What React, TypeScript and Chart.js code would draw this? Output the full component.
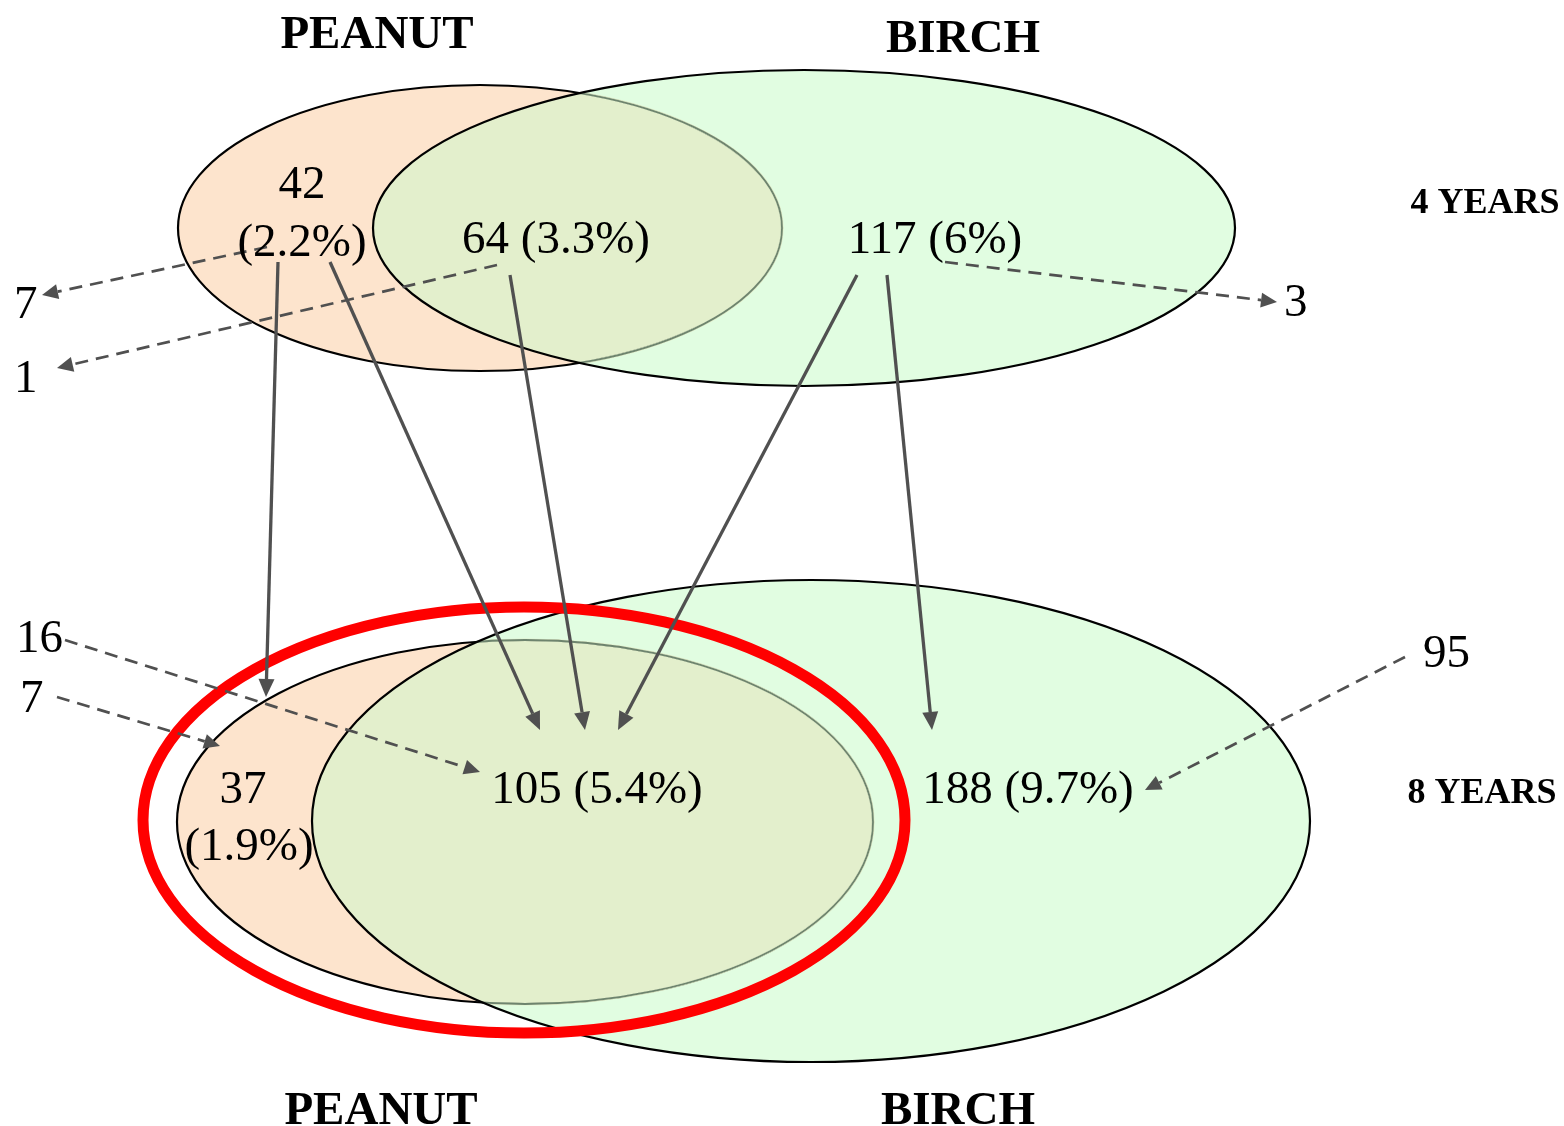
import React, { useEffect, useRef } from "react";
import { Chart, registerables } from "chart.js";

Chart.register(...registerables);

// ---------- data ----------
const sets = ["PEANUT", "BIRCH"];
const periods = ["4 YEARS", "8 YEARS"];
const regions = ["Peanut only", "Peanut + Birch", "Birch only"];
const counts4y = [42, 64, 117];
const pct4y = ["2.2%", "3.3%", "6%"];
const counts8y = [37, 105, 188];
const pct8y = ["1.9%", "5.4%", "9.7%"];
const lostAt4y = [7, 1, 3]; // outgoing dashed arrows from each 4y region
const newAt8y = [7, 16, 95]; // incoming dashed arrows to each 8y region
// transitions 4y region index -> 8y region index (solid arrows)
const transitions: [number, number][] = [
  [0, 0],
  [0, 1],
  [1, 1],
  [2, 1],
  [2, 2],
];

// ---------- layout (data-space coordinates on hidden linear scales) ----------
const W = 1564;
const H = 1126;
const panels = [
  {
    peanut: { cx: 480, cy: 228, rx: 302, ry: 143 },
    birch: { cx: 804, cy: 228, rx: 431, ry: 158 },
    headerY: [48, 52],
    headerX: [377, 963],
    periodPos: { x: 1485, y: 213 },
  },
  {
    peanut: { cx: 525, cy: 822, rx: 348, ry: 182 },
    birch: { cx: 811, cy: 821, rx: 499, ry: 241 },
    headerY: [1124, 1124],
    headerX: [381, 958],
    periodPos: { x: 1482, y: 803 },
  },
];
const highlight = { cx: 524, cy: 820, rx: 381, ry: 213 };

const FONT = "'Liberation Serif', 'Times New Roman', serif";

const venn = {
  id: "venn",
  afterDraw(chart: any) {
    const ctx: CanvasRenderingContext2D = chart.ctx;
    const xs = chart.scales.x;
    const ys = chart.scales.y;
    const px = (v: number) => xs.getPixelForValue(v);
    const py = (v: number) => ys.getPixelForValue(v);
    const sx = (v: number) => Math.abs(px(v) - px(0));
    const sy = (v: number) => Math.abs(py(v) - py(0));
    const ell = (e: any) => {
      ctx.beginPath();
      ctx.ellipse(px(e.cx), py(e.cy), sx(e.rx), sy(e.ry), 0, 0, Math.PI * 2);
    };

    ctx.save();
    panels.forEach((p) => {
      ell(p.peanut);
      ctx.fillStyle = "#FDE4CD";
      ctx.fill();
      ell(p.birch);
      ctx.fillStyle = "#E1FDE1";
      ctx.fill();
      // overlap
      ctx.save();
      ell(p.peanut);
      ctx.clip();
      ell(p.birch);
      ctx.fillStyle = "#E3EFCC";
      ctx.fill();
      ctx.restore();
      // peanut outline: black outside birch, muted inside birch
      ctx.lineWidth = 2.2;
      ctx.strokeStyle = "#000";
      ell(p.peanut);
      ctx.stroke();
      ctx.save();
      ell(p.birch);
      ctx.clip();
      ctx.strokeStyle = "#E3EFCC";
      ctx.lineWidth = 3.2;
      ell(p.peanut);
      ctx.stroke();
      ctx.strokeStyle = "#6E846E";
      ctx.lineWidth = 1.8;
      ell(p.peanut);
      ctx.stroke();
      ctx.restore();
      ctx.strokeStyle = "#000";
      ctx.lineWidth = 2.2;
      ell(p.birch);
      ctx.stroke();
    });

    // red highlight ring
    ctx.strokeStyle = "#FF0000";
    ctx.lineWidth = 11;
    ell(highlight);
    ctx.stroke();

    // arrows
    const arrow = (x1: number, y1: number, x2: number, y2: number, dashed: boolean) => {
      const X1 = px(x1), Y1 = py(y1), X2 = px(x2), Y2 = py(y2);
      const ang = Math.atan2(Y2 - Y1, X2 - X1);
      const len = dashed ? 16 : 18;
      const hw = dashed ? 7.5 : 8;
      const bx = X2 - len * Math.cos(ang);
      const by = Y2 - len * Math.sin(ang);
      ctx.strokeStyle = "#505050";
      ctx.fillStyle = "#505050";
      ctx.lineWidth = dashed ? 2.7 : 3.3;
      ctx.setLineDash(dashed ? [13, 8] : []);
      ctx.beginPath();
      ctx.moveTo(X1, Y1);
      ctx.lineTo(bx, by);
      ctx.stroke();
      ctx.setLineDash([]);
      ctx.beginPath();
      ctx.moveTo(X2, Y2);
      ctx.lineTo(bx - hw * Math.sin(ang), by + hw * Math.cos(ang));
      ctx.lineTo(bx + hw * Math.sin(ang), by - hw * Math.cos(ang));
      ctx.closePath();
      ctx.fill();
    };

    // solid transition arrows (start anchors by 4y region, end anchors by 8y region)
    const solidStarts = [
      [278, 262],
      [330, 262],
      [510, 275],
      [857, 275],
      [887, 275],
    ];
    const solidEnds = [
      [266, 697],
      [540, 730],
      [585, 730],
      [618, 730],
      [932, 730],
    ];
    transitions.forEach((_, i) => {
      arrow(solidStarts[i][0], solidStarts[i][1], solidEnds[i][0], solidEnds[i][1], false);
    });

    // dashed: lost at 4 years
    const lostArrows = [
      [267, 247, 42, 295],
      [497, 265, 57, 368],
      [945, 262, 1277, 302],
    ];
    lostArrows.forEach((a) => arrow(a[0], a[1], a[2], a[3], true));
    // dashed: new at 8 years
    const newArrows = [
      [57, 697, 220, 746],
      [65, 640, 480, 772],
      [1405, 657, 1145, 790],
    ];
    newArrows.forEach((a) => arrow(a[0], a[1], a[2], a[3], true));

    // texts
    ctx.fillStyle = "#000";
    ctx.textBaseline = "alphabetic";
    const txt = (s: string, x: number, y: number, align: CanvasTextAlign, font: string) => {
      ctx.font = font;
      ctx.textAlign = align;
      ctx.fillText(s, px(x), py(y));
    };
    const num = `47px ${FONT}`;
    const hdr = `bold 47px ${FONT}`;
    const per = `bold 36px ${FONT}`;

    panels.forEach((p, i) => {
      txt(sets[0], p.headerX[0], p.headerY[0], "center", hdr);
      txt(sets[1], p.headerX[1], p.headerY[1], "center", hdr);
      txt(periods[i], p.periodPos.x, p.periodPos.y, "center", per);
    });

    // 4 years region labels
    txt(String(counts4y[0]), 302, 198, "center", num);
    txt(`(${pct4y[0]})`, 302, 256, "center", num);
    txt(`${counts4y[1]} (${pct4y[1]})`, 556, 253, "center", num);
    txt(`${counts4y[2]} (${pct4y[2]})`, 935, 253, "center", num);
    // 8 years region labels
    txt(String(counts8y[0]), 243, 803, "center", num);
    txt(`(${pct8y[0]})`, 249, 860, "center", num);
    txt(`${counts8y[1]} (${pct8y[1]})`, 597, 803, "center", num);
    txt(`${counts8y[2]} (${pct8y[2]})`, 1028, 803, "center", num);

    // lost / new counts
    txt(String(lostAt4y[0]), 14, 318, "left", num);
    txt(String(lostAt4y[1]), 14, 392, "left", num);
    txt(String(lostAt4y[2]), 1284, 316, "left", num);
    txt(String(newAt8y[0]), 20, 712, "left", num);
    txt(String(newAt8y[1]), 16, 652, "left", num);
    txt(String(newAt8y[2]), 1423, 667, "left", num);

    ctx.restore();
  },
};

export default function App() {
  const ref = useRef<HTMLCanvasElement | null>(null);
  useEffect(() => {
    if (!ref.current) return;
    const chart = new Chart(ref.current, {
      type: "scatter",
      data: {
        labels: regions,
        datasets: [{ data: [], showLine: false, pointRadius: 0 }],
      },
      options: {
        animation: false,
        responsive: false,
        maintainAspectRatio: false,
        layout: { padding: 0 },
        plugins: { legend: { display: false }, tooltip: { enabled: false } },
        scales: {
          x: { type: "linear", min: 0, max: W, display: false },
          y: { type: "linear", min: 0, max: H, reverse: true, display: false },
        },
      },
      plugins: [venn],
    });
    return () => chart.destroy();
  }, []);
  return (
    <div style={{ position: "absolute", left: 0, top: 0, width: W, height: H, background: "#fff" }}>
      <canvas ref={ref} width={W} height={H} style={{ width: W, height: H }} />
    </div>
  );
}
